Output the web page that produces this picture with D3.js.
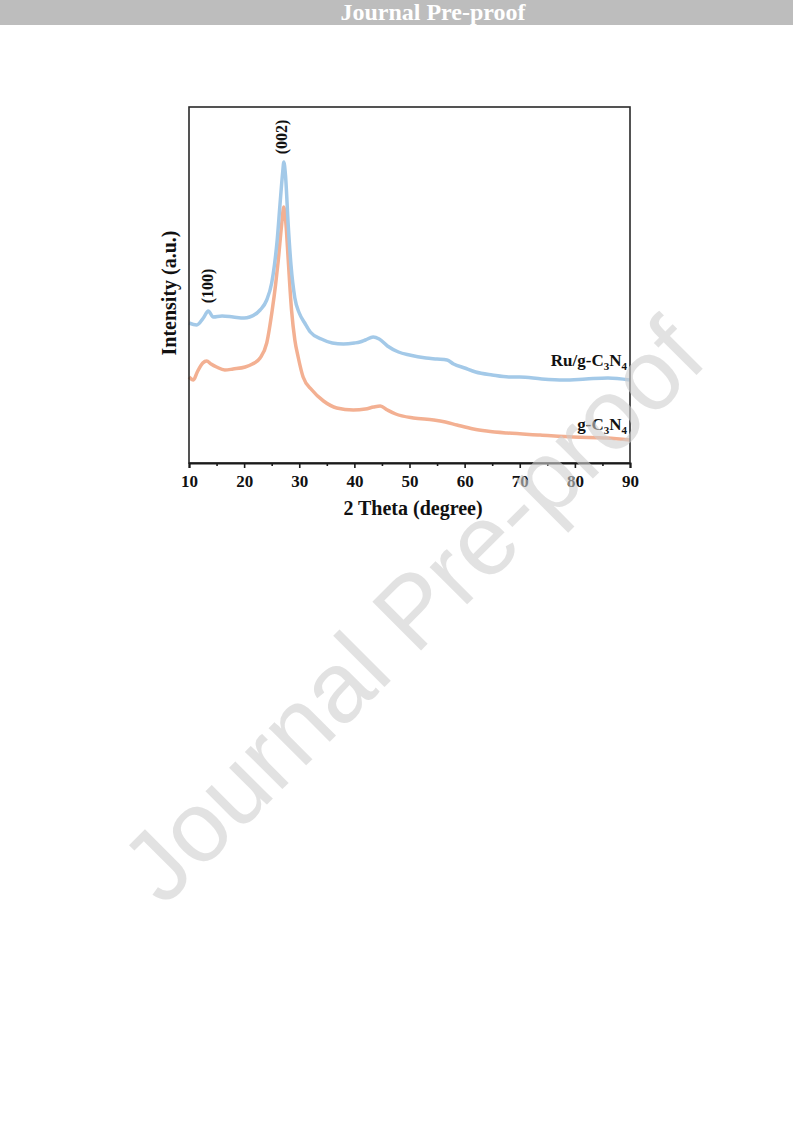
<!DOCTYPE html>
<html>
<head>
<meta charset="utf-8">
<script src="https://cdn.jsdelivr.net/npm/d3@7"></script>
<style>
  html, body { margin: 0; padding: 0; background: #ffffff; }
  svg { display: block; }
</style>
</head>
<body>
<svg id="chart" width="793" height="1121"></svg>
<script>
// ---- data (intensity in arbitrary units) ----
const ruTheta = [10, 11.4, 12.6, 13.5, 14.4, 16, 18, 20, 21, 22.9, 24.1, 25, 25.5, 26, 26.5, 27, 27.2, 27.5, 28, 28.5, 29.2, 30, 31, 32, 34, 36, 38, 40, 41, 42, 43.4, 44.5, 46, 48, 50, 53, 55, 56.8, 58, 60, 62, 65, 68, 70, 74, 78, 82, 86, 90];
const ruIntensity = [140, 138, 145, 152, 146, 147, 146, 145, 146, 153, 163, 180, 198, 223, 258, 291, 301, 288, 238, 198, 165, 150, 140, 131, 124, 120, 119, 120, 121, 123, 126, 124, 117, 111, 108, 105, 104, 103, 99, 95, 91, 88, 86, 86, 84, 83, 84, 85, 83];

const gTheta = [10, 10.8, 11.5, 12.5, 13.2, 14, 15, 16.5, 18, 20.2, 21.5, 22.9, 24.1, 25.1, 25.7, 26.2, 26.8, 27.2, 27.6, 28, 28.6, 29.2, 29.8, 30.7, 32.3, 34.4, 36.8, 39.8, 42, 43.5, 44.7, 46, 47.5, 50.7, 54.4, 56.5, 58.6, 61.6, 64, 67.7, 73.7, 79.7, 85.8, 90];
const gIntensity = [86, 83, 91, 100, 102, 99, 96, 93, 94, 96, 99, 105, 120, 153, 178, 203, 238, 256, 238, 203, 153, 123, 106, 86, 73, 62, 55, 53, 54, 56, 57, 53, 49, 45, 43, 41, 38, 34, 32, 30, 28, 26, 25, 23];

const xTicks = [10, 20, 30, 40, 50, 60, 70, 80, 90];
const xMinorTicks = [15, 25, 35, 45, 55, 65, 75, 85];
const seriesNames = ["Ru/g-C3N4", "g-C3N4"];
const peakLabels = ["(100)", "(002)"];

// ---- layout ----
const svg = d3.select("#chart");
const serif = "'Liberation Serif', 'Times New Roman', serif";
const mLeft = 189, mRight = 630, mTop = 107, mBottom = 463;

const x = d3.scaleLinear().domain([10, 90]).range([mLeft, mRight]);
const y = d3.scaleLinear().domain([0, 356]).range([mBottom, mTop]);

// Header bar
svg.append("rect").attr("x", 0).attr("y", 0).attr("width", 793).attr("height", 25).attr("fill", "#bdbdbd");
svg.append("text").attr("x", 433).attr("y", 20).attr("text-anchor", "middle")
  .attr("font-family", serif).attr("font-weight", "bold").attr("font-size", 24)
  .attr("fill", "#ffffff").text("Journal Pre-proof");

// Lines
const line = d3.line().x(d => x(d[0])).y(d => y(d[1])).curve(d3.curveMonotoneX);
const ruData = d3.zip(ruTheta, ruIntensity);
const gData = d3.zip(gTheta, gIntensity);

const plot = svg.append("g");
plot.append("path").datum(gData).attr("d", line)
  .attr("fill", "none").attr("stroke", "#f3b092").attr("stroke-width", 3.5).attr("stroke-linejoin", "round");
plot.append("path").datum(ruData).attr("d", line)
  .attr("fill", "none").attr("stroke", "#a3c9e8").attr("stroke-width", 3.5).attr("stroke-linejoin", "round");

// Frame
svg.append("rect").attr("x", mLeft).attr("y", mTop).attr("width", mRight - mLeft).attr("height", mBottom - mTop)
  .attr("fill", "none").attr("stroke", "#2a2a2a").attr("stroke-width", 1.6);

// X axis
const xAxis = d3.axisBottom(x).tickValues(xTicks).tickSize(5).tickPadding(7).tickFormat(d3.format("d"));
const gx = svg.append("g").attr("transform", `translate(0,${mBottom})`).call(xAxis);
gx.select(".domain").attr("stroke", "#1a1a1a").attr("stroke-width", 2);
gx.selectAll(".tick line").attr("stroke", "#1a1a1a").attr("stroke-width", 1.6);
gx.selectAll(".tick text").attr("font-family", serif).attr("font-weight", "bold")
  .attr("font-size", 17).attr("fill", "#111");
const xMinor = d3.axisBottom(x).tickValues(xMinorTicks).tickSize(3).tickFormat("");
const gxm = svg.append("g").attr("transform", `translate(0,${mBottom})`).call(xMinor);
gxm.select(".domain").remove();
gxm.selectAll(".tick line").attr("stroke", "#1a1a1a").attr("stroke-width", 1.6);

// Axis titles
svg.append("text").attr("x", 413).attr("y", 515).attr("text-anchor", "middle")
  .attr("font-family", serif).attr("font-weight", "bold").attr("font-size", 20).attr("fill", "#111")
  .text("2 Theta (degree)");
svg.append("text").attr("transform", "translate(176,293) rotate(-90)").attr("text-anchor", "middle")
  .attr("font-family", serif).attr("font-weight", "bold").attr("font-size", 20).attr("fill", "#111")
  .text("Intensity (a.u.)");

// Peak labels
svg.append("text").attr("transform", "translate(213,286) rotate(-90)").attr("text-anchor", "middle")
  .attr("font-family", serif).attr("font-weight", "bold").attr("font-size", 16).attr("fill", "#111")
  .text(peakLabels[0]);
svg.append("text").attr("transform", "translate(287,137) rotate(-90)").attr("text-anchor", "middle")
  .attr("font-family", serif).attr("font-weight", "bold").attr("font-size", 16).attr("fill", "#111")
  .text(peakLabels[1]);

// Series labels with subscripts
function seriesLabel(prefix, xPos, yPos) {
  const t = svg.append("text").attr("x", xPos).attr("y", yPos).attr("text-anchor", "end")
    .attr("font-family", serif).attr("font-weight", "bold").attr("font-size", 17).attr("fill", "#111");
  t.append("tspan").text(prefix + "C");
  t.append("tspan").attr("font-size", 11).attr("dy", 4).text("3");
  t.append("tspan").attr("dy", -4).text("N");
  t.append("tspan").attr("font-size", 11).attr("dy", 4).text("4");
}
seriesLabel("Ru/g-", 627, 366);
seriesLabel("g-", 627, 430);

// Watermark
svg.append("text").attr("transform", "translate(412,610) rotate(-45)").attr("text-anchor", "middle")
  .attr("dominant-baseline", "central")
  .attr("font-family", "'Liberation Sans', Arial, sans-serif").attr("font-size", 100)
  .attr("fill", "#cfcfcf").attr("fill-opacity", 0.6).text("Journal Pre-proof");
</script>
</body>
</html>
